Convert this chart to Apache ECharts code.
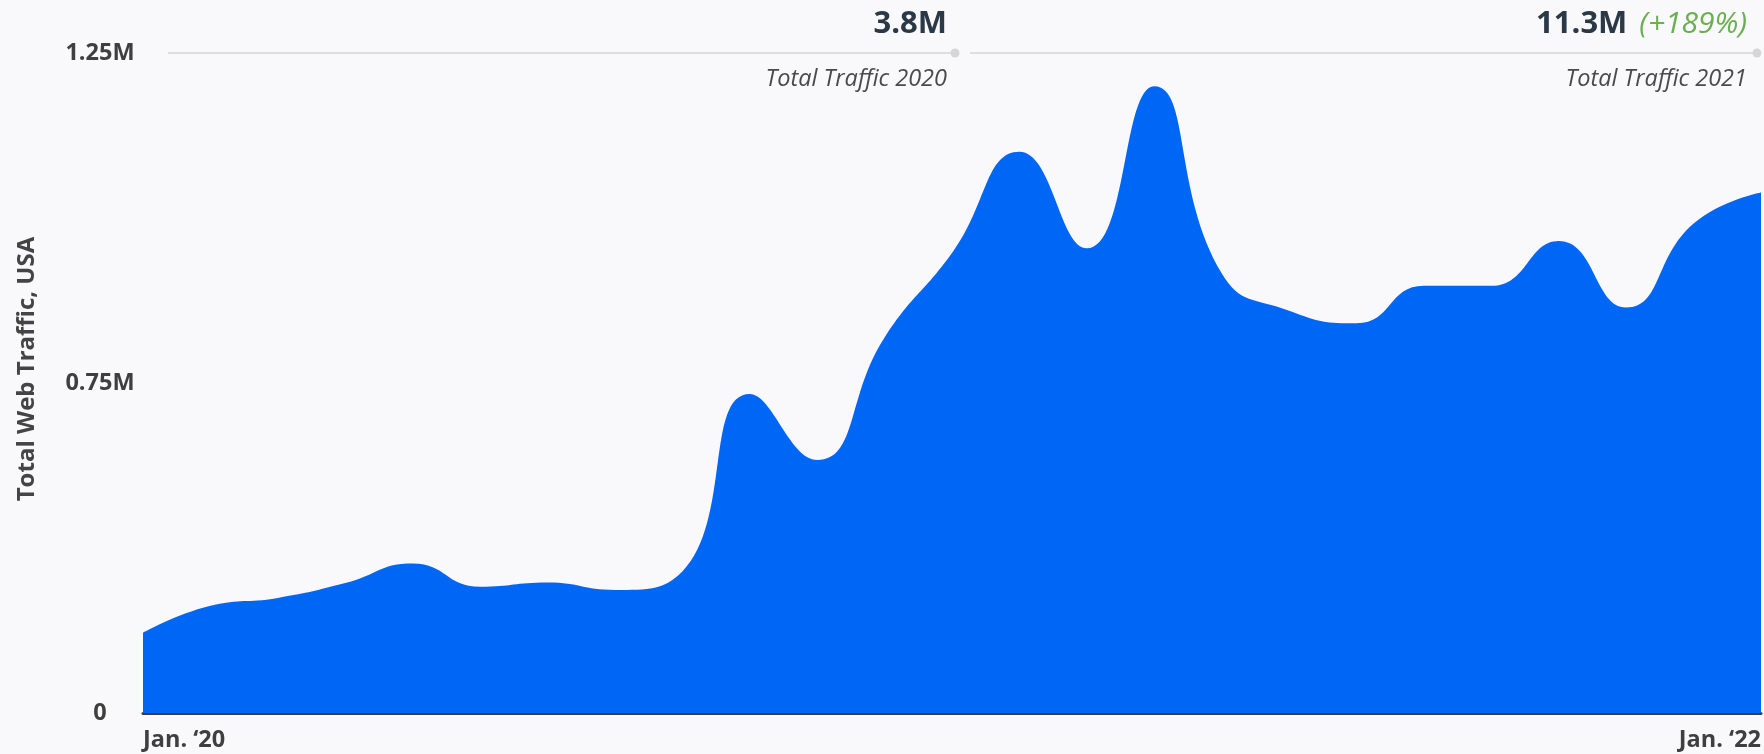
<!DOCTYPE html>
<html>
<head>
<meta charset="utf-8">
<title>Total Web Traffic, USA</title>
<script src="https://cdn.jsdelivr.net/npm/echarts@6/dist/echarts.min.js"></script>
<style>
  html, body { margin: 0; padding: 0; background: #f9f9fb; }
  #chart { width: 1764px; height: 754px; }
</style>
</head>
<body>
<div id="chart"></div>
<script>
// Monthly total web traffic, Jan 2020 – Jan 2022
const months = [
  'Jan 2020','Feb 2020','Mar 2020','Apr 2020','May 2020','Jun 2020',
  'Jul 2020','Aug 2020','Sep 2020','Oct 2020','Nov 2020','Dec 2020',
  'Jan 2021','Feb 2021','Mar 2021','Apr 2021','May 2021','Jun 2021',
  'Jul 2021','Aug 2021','Sep 2021','Oct 2021','Nov 2021','Dec 2021',
  'Jan 2022'
];
const traffic = [
  152000, 203000, 218000, 246000, 283000, 239000,
  247000, 233000, 268000, 604000, 479000, 711000,
  871000, 1063000, 880000, 1187000, 833000, 762000,
  738000, 809000, 809000, 894000, 768000, 927000,
  986000
];
const xTickLabels = { 0: 'Jan. \u201820', 24: 'Jan. \u201822' };
const yTickLabels = ['0', '0.75M', '1.25M'];
const yAxisTitle = 'Total Web Traffic, USA';
const yMax = 1250000;

// Yearly summary captions
const total2020 = '3.8M';
const total2021 = '11.3M';
const growth2021 = '(+189%)';
const caption2020 = 'Total Traffic 2020';
const caption2021 = 'Total Traffic 2021';

const chart = echarts.init(document.getElementById('chart'), null, { renderer: 'canvas' });

const labelFont = { fontFamily: 'Open Sans', fontWeight: 'bold', fontSize: 23.5, color: '#3f3f3f' };

chart.setOption({
  backgroundColor: '#f9f9fb',
  animation: false,
  grid: { left: 143, right: 0, top: 53, bottom: 41, containLabel: false },
  xAxis: {
    type: 'category',
    data: months,
    boundaryGap: false,
    axisLine: { show: true, lineStyle: { color: '#3a3e44', width: 3 } },
    axisTick: { show: false },
    splitLine: { show: false },
    axisLabel: Object.assign({
      interval: (i) => xTickLabels[i] !== undefined,
      formatter: (v, i) => xTickLabels[i] || '',
      margin: 15,
      alignMinLabel: 'left',
      alignMaxLabel: 'right',
      showMinLabel: true,
      showMaxLabel: true
    }, labelFont)
  },
  yAxis: {
    type: 'value',
    min: 0,
    max: yMax,
    interval: yMax / 2,
    name: yAxisTitle,
    nameLocation: 'middle',
    nameGap: 104,
    nameRotate: 90,
    nameTextStyle: {
      fontFamily: 'Open Sans', fontWeight: 'bold', fontSize: 24, color: '#444',
      padding: [0, 0, 0, 28]
    },
    axisLine: { show: false },
    axisTick: { show: false },
    splitLine: { show: false },
    axisLabel: Object.assign({
      align: 'center',
      margin: 43,
      formatter: (v) => yTickLabels[Math.round(v / (yMax / 2))]
    }, labelFont)
  },
  series: [{
    type: 'line',
    data: traffic,
    smooth: 0.5,
    symbol: 'none',
    lineStyle: { width: 0 },
    areaStyle: { color: '#0066f6', opacity: 1 },
    z: 1
  }]
});

// Summary rule lines and captions along the top of the plot
function drawSummary() {
  const yTop = chart.convertToPixel({ yAxisIndex: 0 }, yMax);
  const xStart = chart.convertToPixel({ xAxisIndex: 0 }, 0) + 25;
  const xMid = chart.convertToPixel({ xAxisIndex: 0 }, 12) + 3;
  const xEnd = chart.convertToPixel({ xAxisIndex: 0 }, 24) - 4;
  const ruleStyle = { stroke: '#dedede', lineWidth: 2 };
  const dotStyle = { fill: '#d6d6d6' };
  const bigFont = { fontFamily: 'Open Sans', fontWeight: 'bold', fontSize: 31, fill: '#2b3947' };
  const capFont = { fontFamily: 'Open Sans', fontStyle: 'italic', fontSize: 23.5, fill: '#4a4a4a' };

  chart.setOption({
    graphic: [
      { type: 'line', shape: { x1: xStart, y1: yTop, x2: xMid, y2: yTop }, style: ruleStyle, z: 5 },
      { type: 'circle', shape: { cx: xMid, cy: yTop, r: 4.5 }, style: dotStyle, z: 6 },
      { type: 'line', shape: { x1: xMid + 15, y1: yTop, x2: xEnd, y2: yTop }, style: ruleStyle, z: 5 },
      { type: 'circle', shape: { cx: xEnd, cy: yTop, r: 4.5 }, style: dotStyle, z: 6 },
      {
        type: 'text', x: xMid - 8, y: yTop - 29, z: 6,
        style: Object.assign({ text: total2020, align: 'right', verticalAlign: 'middle' }, bigFont)
      },
      {
        type: 'text', x: xMid - 8, y: yTop + 26, z: 6,
        style: Object.assign({ text: caption2020, align: 'right', verticalAlign: 'middle' }, capFont)
      },
      {
        type: 'text', x: xEnd - 10, y: yTop - 29, z: 6,
        style: {
          text: '{b|' + total2021 + '}{g|' + growth2021 + '}',
          align: 'right', verticalAlign: 'middle',
          rich: {
            b: { fontFamily: 'Open Sans', fontWeight: 'bold', fontSize: 31, fill: '#2b3947' },
            g: { fontFamily: 'Open Sans', fontStyle: 'italic', fontSize: 30, fill: '#6aaf50', padding: [0, 0, 0, 12] }
          }
        }
      },
      {
        type: 'text', x: xEnd - 10, y: yTop + 26, z: 6,
        style: Object.assign({ text: caption2021, align: 'right', verticalAlign: 'middle' }, capFont)
      }
    ]
  });
}
drawSummary();
</script>
</body>
</html>
